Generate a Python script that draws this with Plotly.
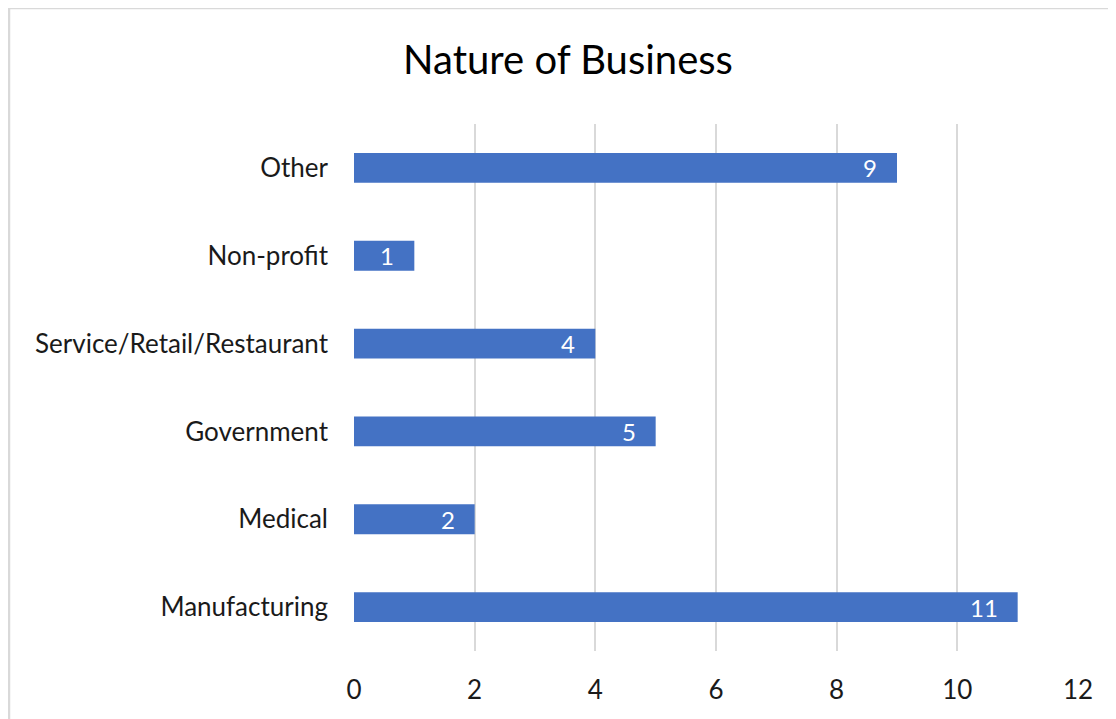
import plotly.graph_objects as go

categories = ["Manufacturing", "Medical", "Government", "Service/Retail/Restaurant", "Non-profit", "Other"]
values = [11, 2, 5, 4, 1, 9]
x_ticks = [0, 2, 4, 6, 8, 10, 12]

W, H = 1116, 719
OFF = 8  # page body margin
L, R, T, B = 354 - OFF, 38 + OFF, 124 - OFF, 68 + OFF
pw, ph = W - L - R, H - T - B

def px_x(p):
    return (p - OFF - L) / pw

def px_y(p):
    return (H - B - (p - OFF)) / ph

FONT = "Lato, Open Sans, sans-serif"

fig = go.Figure(go.Bar(
    y=categories, x=values, orientation="h",
    marker=dict(color="#4472C4", line=dict(width=0)),
    width=0.34, hoverinfo="skip",
))

for c, v in zip(categories, values):
    fig.add_annotation(x=v, y=c, xref="x", yref="y", text=str(v), showarrow=False,
                       xanchor="right", yanchor="middle", xshift=-18,
                       font=dict(color="white", size=24, family=FONT))

fig.update_layout(
    width=W, height=H,
    margin=dict(l=L, r=R, t=T, b=B),
    paper_bgcolor="white", plot_bgcolor="white",
    showlegend=False,
    font=dict(family=FONT, color="#404040"),
    title=dict(text="Nature of Business", x=(568 - OFF) / W, xanchor="center", xref="container",
               y=1 - (60 - OFF) / H, yanchor="middle", yref="container",
               font=dict(size=40, color="#000000", family=FONT)),
)
fig.update_xaxes(range=[0, 12], tickvals=x_ticks, showgrid=True, gridcolor="#D9D9D9", gridwidth=2,
                 zeroline=False, showline=False, ticks="",
                 tickfont=dict(size=26, color="#1a1a1a"), ticklabelstandoff=21)
fig.update_yaxes(range=[-0.5, 5.5], categoryorder="array", categoryarray=categories,
                 showgrid=False, zeroline=False, showline=False, ticks="",
                 tickfont=dict(size=26, color="#1a1a1a"), ticklabelstandoff=25)

# border of chart area (top and left visible)
fig.add_shape(type="rect", xref="paper", yref="paper",
              x0=px_x(9), x1=px_x(1140), y0=px_y(740), y1=px_y(8),
              line=dict(color="#D9D9D9", width=2.5), fillcolor="rgba(0,0,0,0)", layer="below")

fig.write_html("out.html")
